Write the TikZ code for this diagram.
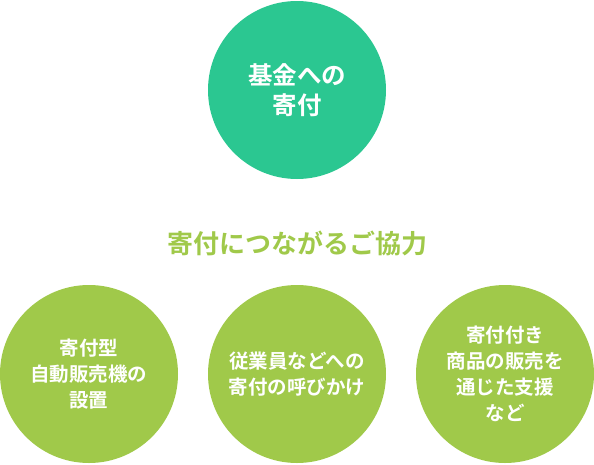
\documentclass[tikz,border=0pt]{standalone}
\usepackage{fontspec}
\newfontfamily\jpfont{Noto Sans CJK JP Bold}
\usepackage{tikz}
\usetikzlibrary{positioning}
\definecolor{fundcol}{RGB}{43,199,145}
\definecolor{helpcol}{RGB}{160,201,74}
\tikzset{
  % big circle with the fund donation
  fundnode/.style={circle, fill=fundcol, minimum size=178pt, inner sep=0pt,
                   text=white, align=center, font=\jpfont\fontsize{24.5}{30}\selectfont},
  % circles for the ways to help
  helpnode/.style={circle, fill=helpcol, minimum size=178pt, inner sep=0pt,
                   text=white, align=center, font=\jpfont\fontsize{19.5}{26}\selectfont},
  % heading between the rows
  headnode/.style={text=helpcol, font=\jpfont\fontsize{26}{30}\selectfont, inner sep=0pt},
}
\begin{document}
\begin{tikzpicture}[x=1pt, y=-1pt]
  \useasboundingbox (0,0) rectangle (594,464);

  % ── top ──
  \node[fundnode] (fund) at (297,90) {基金への\\寄付};

  % ── heading ──
  \node[headnode] (head) at (297,243) {寄付につながるご協力};

  % ── bottom row ──
  \node[helpnode] (vend) at (89,374) {寄付型\\自動販売機の\\設置};
  \node[helpnode] (staff) at (297,374) {従業員などへの\\寄付の呼びかけ};
  \node[helpnode] (goods) at (505,374) {寄付付き\\商品の販売を\\通じた支援\\など};

\end{tikzpicture}
\end{document}
